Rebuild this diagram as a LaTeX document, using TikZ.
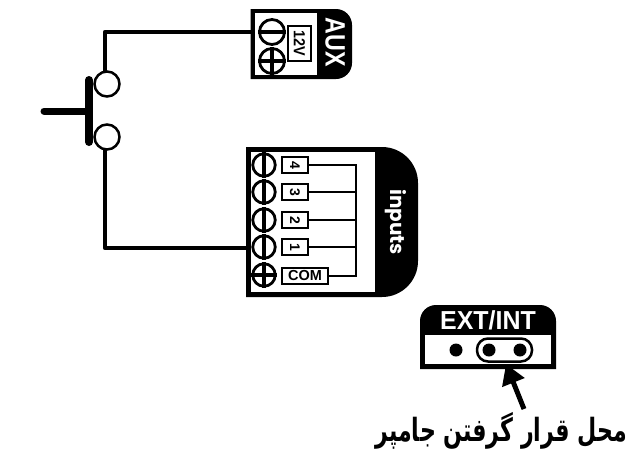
\documentclass[tikz,border=0pt]{standalone}
\usepackage{fontspec}
\setmainfont{Liberation Sans}
\newfontfamily\labelfont{Poppins}
\newfontfamily\arabicfont[Script=Arabic]{DejaVu Sans}
\TeXXeTstate=1
\usetikzlibrary{arrows.meta}
\tikzset{
    panel/.style={fill=white, inner sep=0pt},
    wire/.style={line width=4.6pt, line join=round},
    bus/.style={line width=2.8pt},
    screw/.style={draw, circle, fill=white, line width=2.8pt, minimum size=25pt, inner sep=0pt},
    smallscrew/.style={screw, minimum size=22.5pt},
    slot/.style={line width=3.2pt},
    contact/.style={draw, circle, fill=white, line width=2.5pt, minimum size=25pt, inner sep=0pt},
    keybox/.style={draw, fill=white, line width=2pt, minimum width=26pt, minimum height=16pt, inner sep=0pt, font=\bfseries\fontsize{14}{14}\selectfont},
    pin/.style={circle, fill=black, minimum size=13pt, inner sep=0pt}
}
\begin{document}
\begin{tikzpicture}[x=1pt, y=-1pt]
    \useasboundingbox (0,0) rectangle (638,464);
    % switch
    \coordinate (swtop) at (105,75);
    \coordinate (swbot) at (105,145);
    \coordinate (auxin) at (253,32);
    \coordinate (inpin) at (248,248);
    \draw[wire] (swtop) |- (auxin);
    \draw[wire] (swbot) |- (inpin);
    \coordinate (bartop) at (89,80);
    \coordinate (barbot) at (89,142);
    \coordinate (barmid) at (89,111);
    \coordinate (stem) at (44,111);
    \node[contact] (sw1) at (107,84) {};
    \node[contact] (sw2) at (107,137) {};
    \draw[line width=8pt, line cap=round] (bartop) -- (barbot);
    \draw[line width=7pt, line cap=round] (stem) -- (barmid);

    % aux block
    \fill (250.5,9) [rounded corners=16pt] -- (352,9) -- (352,79) [sharp corners] -- (250.5,79) -- cycle;
    \node[panel, minimum width=62pt, minimum height=62pt] (auxpanel) at (286,44) {};
    \node[screw] (auxm) at (272,32) {};
    \node[screw] (auxp) at (272,61) {};
    \draw[slot] (auxm.west) -- (auxm.east);
    \draw[slot] (auxp.west) -- (auxp.east);
    \draw[slot] (auxp.north) -- (auxp.south);
    \node[keybox, minimum width=23pt, minimum height=35pt, font=\bfseries\fontsize{16}{16}\selectfont] (v12) at (299.5,43.5) {\rotatebox{-90}{\scalebox{.9}[1]{12V}}};
    \node[white, rotate=-90, font=\bfseries\fontsize{28}{28}\selectfont] (auxname) at (335,42) {\scalebox{.83}[1]{AUX}};

    % inputs block
    \fill (246,147) [rounded corners=36pt] -- (418,147) -- (418,297) [sharp corners] -- (246,297) -- cycle;
    \node[panel, minimum width=124pt, minimum height=140pt] (inpanel) at (313,222) {};
    \draw[bus] (356,164) -- (356,277);
    \foreach \n/\y/\t in {4/165/4, 3/192/3, 2/220/2, 1/247/1} {
        \node[smallscrew] (s\n) at (264,\y) {};
        \draw[slot] (s\n.north) -- (s\n.south);
        \node[keybox] (k\n) at (295,\y) {\rotatebox{-90}{\t}};
        \draw[bus] (k\n.east) -- (356,\y);
    }
    \node[smallscrew] (scom) at (264,275) {};
    \draw[slot] (scom.west) -- (scom.east);
    \draw[slot] (scom.north) -- (scom.south);
    \node[keybox, minimum width=46pt, font=\bfseries\fontsize{14.5}{14.5}\selectfont] (kcom) at (305,276) {COM};
    \draw[bus] (kcom.east) -- (356,276);
    \node[white, rotate=-90, font=\labelfont\bfseries\fontsize{20}{20}\selectfont] (inname) at (396,222) {inputs};

    % jumper block
    \fill (420,369) [rounded corners=16pt] -- (420,305) -- (556,305) [sharp corners] -- (556,369) -- cycle;
    \node[panel, minimum width=126pt, minimum height=29pt] (jpanel) at (488,349.5) {};
    \node[white, font=\fontsize{26}{26}\selectfont\bfseries] (jname) at (488,320) {\scalebox{.96}[1]{EXT/INT}};
    \node[draw, rounded corners=11pt, line width=2.5pt, minimum width=55pt, minimum height=23pt, inner sep=0pt] (pill) at (504.5,350) {};
    \node[pin] (p1) at (456,350) {};
    \node[pin] (p2) at (489,350) {};
    \node[pin] (p3) at (520,350) {};

    % arrow
    \node[font=\arabicfont\bfseries\fontsize{32}{32}\selectfont] (caption) at (501,431) {\scalebox{.69}[1]{\beginR محل قرار گرفتن جامپر\endR}};
    \coordinate (arrowfoot) at (524,409);
    \coordinate (arrowtip) at (506,364);
    \draw[line width=5pt, -{Triangle[length=20pt, width=23pt]}] (arrowfoot) -- (arrowtip);
\end{tikzpicture}
\end{document}
